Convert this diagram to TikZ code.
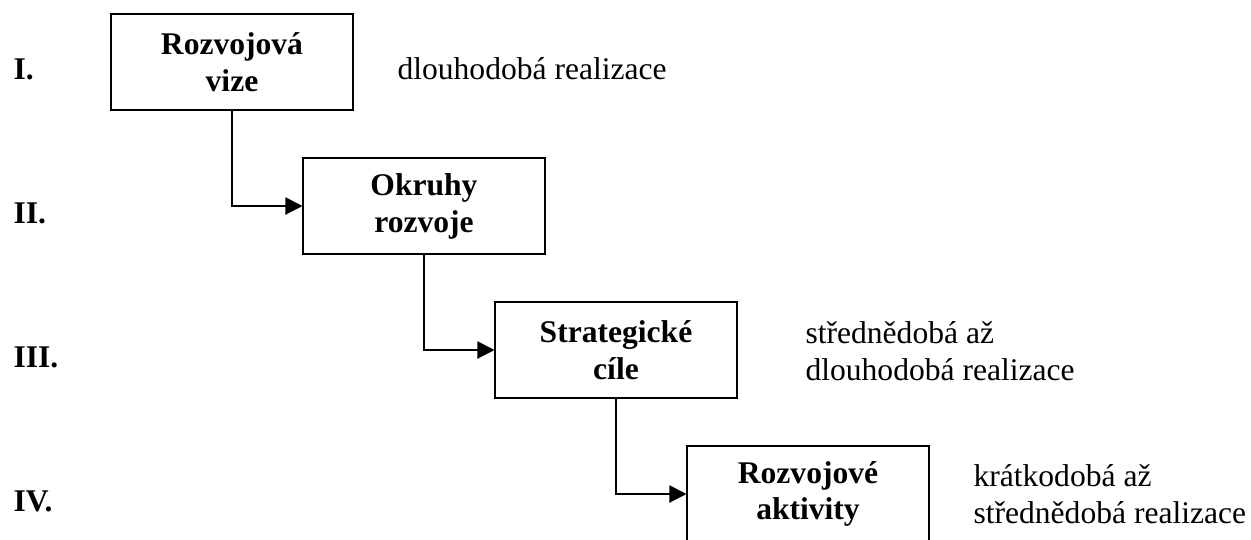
\documentclass[tikz,border=0pt]{standalone}
\usepackage{fontspec}
\setmainfont{Liberation Serif}
\usepackage{tikz}
\usetikzlibrary{arrows.meta, positioning}
\tikzstyle{basefont}=[font=\fontsize{12pt}{14pt}\selectfont]
\tikzstyle{level}=[basefont, font=\fontsize{12pt}{14pt}\selectfont\bfseries, anchor=base west, inner sep=0pt]
\tikzstyle{term}=[basefont, align=left, anchor=base west, inner sep=0pt]
\tikzstyle{stage}=[basefont, font=\fontsize{12pt}{14pt}\selectfont\bfseries, align=center,
                   minimum width=91.6pt, minimum height=36.5pt, inner sep=0pt,
                   draw=black, line width=0.75pt]
\tikzstyle{arrow}=[line width=0.75pt, -{Triangle[length=6.5pt, width=6.5pt]}]

\begin{document}
\begin{tikzpicture}[x=0.38pt, y=-0.38pt]
        \useasboundingbox (0,0) rectangle (1251,539);

        % Stage boxes, stepping down to the right
        \def\xstep{192}
        \def\ystep{144}
        \foreach \content [count=\i] in {
            Rozvojová\\vize,
            Okruhy\\rozvoje,
            Strategické\\cíle,
            Rozvojové\\aktivity
        }{
            \pgfmathtruncatemacro\j{\i-1}
            \pgfmathtruncatemacro\x{232+\j*\xstep}
            \pgfmathtruncatemacro\y{62+\j*\ystep}
            \node[stage] (stage\i) at (\x,\y) {\content};

            % Roman numeral of the level
            \pgfmathtruncatemacro\ly{\y+17}
            \node[level] (level\i) at (13,\ly) {\ifcase\i\or I.\or II.\or III.\or IV.\fi};
        }

        % Connectors between the stages
        \foreach \i in {1,2,3}{
            \pgfmathtruncatemacro\j{\i+1}
            \draw[arrow] (stage\i.south) |- (stage\j.west);
        }

        % Time horizon of the realisation (base = last line)
        \node[term] (term1) at (397,79) {dlouhodobá realizace};
        \node[term] (term3) at (805,380) {střednědobá až\\dlouhodobá realizace};
        \node[term] (term4) at (973,523) {krátkodobá až\\střednědobá realizace};
\end{tikzpicture}
\end{document}
